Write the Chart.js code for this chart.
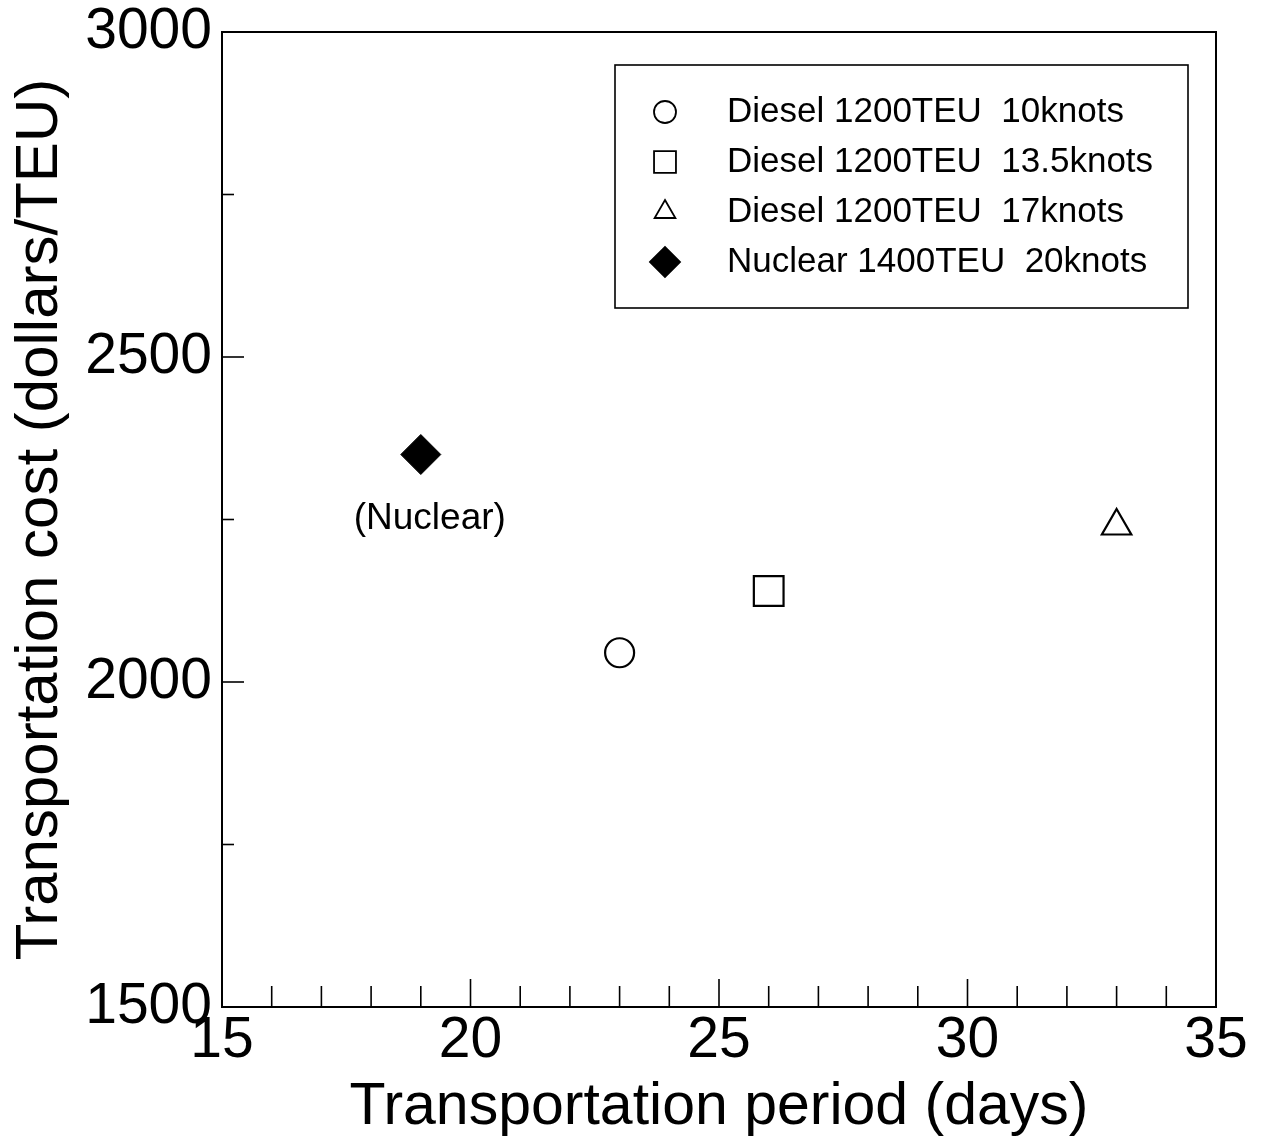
<!DOCTYPE html>
<html>
<head>
<meta charset="utf-8">
<script src="https://cdn.jsdelivr.net/npm/chart.js@4.4.0/dist/chart.umd.min.js"></script>
<style>
html,body{margin:0;padding:0;background:#fff;}
#wrap{width:1263px;height:1146px;position:relative;}
</style>
</head>
<body>
<div id="wrap"><canvas id="c" width="1263" height="1146"></canvas></div>
<script>
// ---- data ----
const seriesLabels = [
  'Diesel 1200TEU  10knots',
  'Diesel 1200TEU  13.5knots',
  'Diesel 1200TEU  17knots',
  'Nuclear 1400TEU  20knots'
];
const periodDays = [23, 26, 33, 19];
const costPerTEU = [2045, 2140, 2240, 2350];
const xTickValues = [15, 20, 25, 30, 35];
const yTickValues = [1500, 2000, 2500, 3000];
const xAxisTitle = 'Transportation period (days)';
const yAxisTitle = 'Transportation cost (dollars/TEU)';
const annotationText = '(Nuclear)';
const annotationSeries = 3;

// ---- styles ----
const markerStyles = [
  {pointStyle: 'circle',   radius: 14.5, fill: '#ffffff', border: 2.2, legendRadius: 11},
  {pointStyle: 'rect',     radius: 21,   fill: '#ffffff', border: 2.2, legendRadius: 15.5},
  {pointStyle: 'triangle', radius: 17,   fill: '#ffffff', border: 2.2, legendRadius: 12},
  {pointStyle: 'rectRot',  radius: 20,   fill: '#000000', border: 1,   legendRadius: 15}
];
const FONT = '"Liberation Sans", Arial, Helvetica, sans-serif';

const datasets = seriesLabels.map((lab, i) => ({
  label: lab,
  data: [{x: periodDays[i], y: costPerTEU[i]}],
  pointStyle: markerStyles[i].pointStyle,
  pointRadius: markerStyles[i].radius,
  pointHoverRadius: markerStyles[i].radius,
  backgroundColor: markerStyles[i].fill,
  borderColor: '#000',
  pointBorderWidth: markerStyles[i].border,
  borderWidth: markerStyles[i].border
}));

const framePlugin = {
  id: 'framePlugin',
  beforeDatasetsDraw(chart) {
    const ctx = chart.ctx, ca = chart.chartArea;
    const xs = chart.scales.x, ys = chart.scales.y;
    ctx.save();
    ctx.strokeStyle = '#000';
    ctx.lineWidth = 2;
    ctx.strokeRect(ca.left, ca.top, ca.right - ca.left, ca.bottom - ca.top);
    ctx.lineWidth = 1.6;
    for (let v = xs.min + 1; v < xs.max; v += 1) {
      const px = xs.getPixelForValue(v);
      const len = (v % 5 === 0) ? 28 : 21;
      ctx.beginPath(); ctx.moveTo(px, ca.bottom); ctx.lineTo(px, ca.bottom - len); ctx.stroke();
    }
    for (let v = ys.min + 250; v < ys.max; v += 250) {
      const py = ys.getPixelForValue(v);
      const len = (v % 500 === 0) ? 22 : 12;
      ctx.beginPath(); ctx.moveTo(ca.left, py); ctx.lineTo(ca.left + len, py); ctx.stroke();
    }
    ctx.restore();
  },
  afterDraw(chart) {
    const ctx = chart.ctx, ca = chart.chartArea;
    ctx.save();
    const bx = ca.left + 393, by = ca.top + 33, bw = 573, bh = 243;
    ctx.fillStyle = '#fff';
    ctx.fillRect(bx, by, bw, bh);
    ctx.strokeStyle = '#000';
    ctx.lineWidth = 1.6;
    ctx.strokeRect(bx, by, bw, bh);
    ctx.font = '35px ' + FONT;
    ctx.textBaseline = 'middle';
    ctx.textAlign = 'left';
    seriesLabels.forEach((lab, i) => {
      const y = by + 47 + i * 50;
      const x = bx + 50;
      const st = markerStyles[i];
      ctx.fillStyle = st.fill;
      ctx.strokeStyle = '#000';
      ctx.lineWidth = 1.8;
      Chart.helpers.drawPoint(ctx, {pointStyle: st.pointStyle, radius: st.legendRadius, rotation: 0, borderWidth: 1.8}, x, y);
      ctx.fillStyle = '#000';
      ctx.fillText(lab, bx + 112, y);
    });
    const meta = chart.getDatasetMeta(annotationSeries);
    const pt = meta.data[0];
    ctx.font = '37px ' + FONT;
    ctx.textAlign = 'center';
    ctx.fillStyle = '#000';
    ctx.fillText(annotationText, pt.x + 9, pt.y + 64);
    ctx.restore();
  }
};

new Chart(document.getElementById('c'), {
  type: 'scatter',
  data: {datasets},
  options: {
    responsive: false,
    devicePixelRatio: 1,
    animation: false,
    events: [],
    layout: {padding: {top: 32, right: 47, left: 0, bottom: 0}},
    plugins: {legend: {display: false}, tooltip: {enabled: false}},
    scales: {
      x: {
        type: 'linear',
        min: xTickValues[0],
        max: xTickValues[xTickValues.length - 1],
        afterBuildTicks: s => { s.ticks = xTickValues.map(v => ({value: v})); },
        afterFit: s => { s.height = 139; s.paddingLeft = 0; s.paddingRight = 0; },
        grid: {display: false, drawTicks: false},
        border: {display: false},
        ticks: {color: '#000', font: {size: 57, family: FONT}, padding: 0, maxRotation: 0, autoSkip: false,
                callback: v => String(v)},
        title: {display: true, text: xAxisTitle, color: '#000', font: {size: 59, family: FONT}, padding: {top: 0, bottom: 3}}
      },
      y: {
        type: 'linear',
        min: yTickValues[0],
        max: yTickValues[yTickValues.length - 1],
        afterBuildTicks: s => { s.ticks = yTickValues.map(v => ({value: v})); },
        afterFit: s => { s.width = 222; s.paddingTop = 0; s.paddingBottom = 0; },
        grid: {display: false, drawTicks: false},
        border: {display: false},
        ticks: {color: '#000', font: {size: 57, family: FONT}, padding: 10, autoSkip: false,
                callback: v => String(v)},
        title: {display: true, text: yAxisTitle, color: '#000', font: {size: 60, family: FONT}, padding: {top: 4, bottom: 0}}
      }
    }
  },
  plugins: [framePlugin]
});
</script>
</body>
</html>
